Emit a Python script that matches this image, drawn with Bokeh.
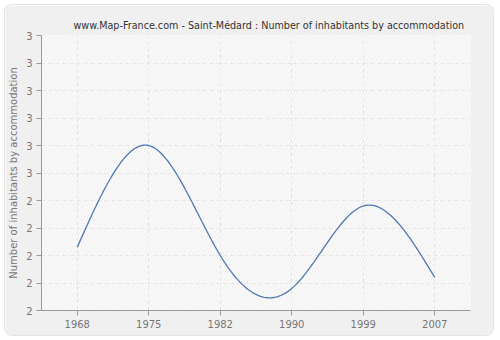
import numpy as np
from bokeh.plotting import figure
from bokeh.models import FixedTicker, BoxAnnotation, Title, Range1d
from bokeh.embed import file_html
from bokeh.resources import INLINE

years = ["1968", "1975", "1982", "1990", "1999", "2007"]
values = [2.23, 2.60, 2.20, 2.08, 2.38, 2.12]
y_ticks = [2.0, 2.1, 2.2, 2.3, 2.4, 2.5, 2.6, 2.7, 2.8, 2.9, 3.0]
y_tick_labels = ["2", "2", "2", "2", "2", "3", "3", "3", "3", "3", "3"]
title_text = "www.Map-France.com - Saint-Médard : Number of inhabitants by accommodation"
y_label = "Number of inhabitants by accommodation"

# natural cubic spline through the points (equally spaced positions)
xs = np.arange(len(values), dtype=float)
ys = np.array(values, dtype=float)
n = len(xs)
A = np.zeros((n, n))
b = np.zeros(n)
A[0, 0] = 1
A[-1, -1] = 1
for i in range(1, n - 1):
    A[i, i - 1] = 1
    A[i, i] = 4
    A[i, i + 1] = 1
    b[i] = 6 * (ys[i + 1] - 2 * ys[i] + ys[i - 1])
M = np.linalg.solve(A, b)
sx, sy = [], []
for i in range(n - 1):
    t = np.linspace(0, 1, 40)
    y0, y1, m0, m1 = ys[i], ys[i + 1], M[i], M[i + 1]
    yy = (1 - t) * y0 + t * y1 + ((1 - t) ** 3 - (1 - t)) * m0 / 6 + (t ** 3 - t) * m1 / 6
    sx.extend(list(xs[i] + t))
    sy.extend(list(yy))

FONT = "DejaVu Sans"

p = figure(width=488, height=330, output_backend="svg", toolbar_location=None,
           x_range=Range1d(-0.5, n - 0.5), y_range=Range1d(2.0, 3.0),
           min_border_left=35, min_border_right=23, min_border_top=30, min_border_bottom=25,
           margin=(5, 7, 5, 5))
p.styles = {"border-radius": "7px", "overflow": "hidden", "box-shadow": "0 0 0 1px #e4e4e4"}
p.border_fill_color = "#f0f0f0"
p.background_fill_color = "#fafafa"
p.outline_line_color = None

p.add_layout(BoxAnnotation(left=-0.5, right=n - 0.5, bottom=2.0, top=3.0,
                           fill_alpha=0, line_color=None, level="underlay",
                           hatch_pattern="right_diagonal_line", hatch_color="#efefef",
                           hatch_scale=6, hatch_weight=1), "center")

t = Title(text=title_text, align="left", text_font=FONT, text_font_size="9.6px",
          text_color="#333333", text_font_style="normal", offset=32, standoff=9)
p.add_layout(t, "above")

p.line(sx, sy, line_color="#4e79b0", line_width=1.3)

p.xaxis.ticker = FixedTicker(ticks=list(xs))
p.xaxis.major_label_overrides = {float(x): yr for x, yr in zip(xs, years)}
p.yaxis.ticker = FixedTicker(ticks=y_ticks)
p.yaxis.major_label_overrides = {v: s for v, s in zip(y_ticks, y_tick_labels)}
p.yaxis.axis_label = y_label

for ax in (p.xaxis, p.yaxis):
    ax.axis_line_color = "#999999"
    ax.major_tick_line_color = "#999999"
    ax.major_tick_out = 5
    ax.major_tick_in = 0
    ax.minor_tick_line_color = None
    ax.major_label_text_font = FONT
    ax.major_label_text_font_size = "10px"
    ax.major_label_text_color = "#777777"
    ax.major_label_standoff = 4
p.yaxis.axis_label_text_font = FONT
p.yaxis.axis_label_text_font_size = "10px"
p.yaxis.axis_label_text_color = "#777777"
p.yaxis.axis_label_text_font_style = "normal"
p.yaxis.axis_label_standoff = 4

p.xgrid.ticker = FixedTicker(ticks=list(xs))
p.ygrid.ticker = FixedTicker(ticks=y_ticks)
for g in (p.xgrid, p.ygrid):
    g.grid_line_color = "#e2e2e2"
    g.grid_line_dash = "4 3"
    g.grid_line_width = 1

open("out.html", "w").write(file_html(p, INLINE))
